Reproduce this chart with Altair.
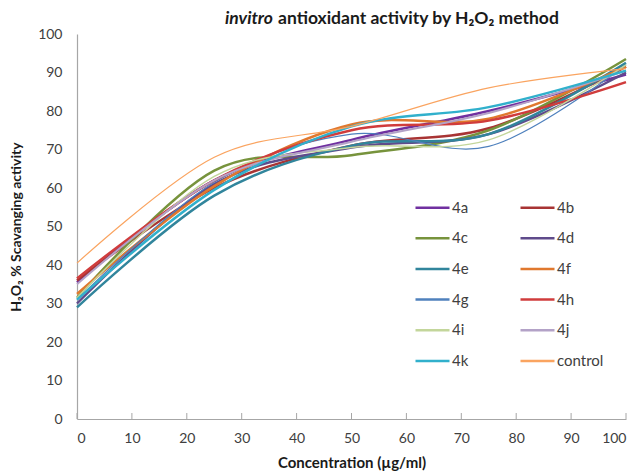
import altair as alt
import pandas as pd

# ---- data ----
concentration = [0, 25, 50, 75, 100]
series_names = ["4a", "4b", "4c", "4d", "4e", "4f", "4g", "4h", "4i", "4j", "4k", "control"]
s4a = [35.5, 62.0, 72.5, 80.0, 89.5]
s4b = [36.0, 60.0, 71.0, 75.5, 91.5]
s4c = [31.5, 64.5, 68.5, 75.0, 93.5]
s4d = [30.0, 61.0, 70.5, 74.0, 90.0]
s4e = [29.0, 58.0, 71.0, 74.0, 92.5]
s4f = [32.5, 60.5, 76.5, 78.0, 91.5]
s4g = [31.0, 61.5, 74.0, 70.8, 92.0]
s4h = [36.5, 62.0, 75.0, 77.5, 87.5]
s4i = [31.5, 63.0, 70.5, 72.5, 92.0]
s4j = [35.0, 62.0, 72.0, 79.5, 90.5]
s4k = [31.0, 59.5, 76.0, 81.0, 90.5]
control = [40.5, 68.0, 76.0, 86.0, 91.0]
all_values = [s4a, s4b, s4c, s4d, s4e, s4f, s4g, s4h, s4i, s4j, s4k, control]

x_ticks = [0, 10, 20, 30, 40, 50, 60, 70, 80, 90, 100]
y_ticks = [0, 10, 20, 30, 40, 50, 60, 70, 80, 90, 100]

# ---- styles ----
colors = ["#7030A0", "#A83434", "#77933C", "#5F4B8B", "#31859C", "#E0782E",
          "#4F81BD", "#D03C3C", "#C3D69B", "#B3A2C7", "#31B0CC", "#FAA460"]
widths = [2.5, 2.5, 2.5, 2.5, 2.5, 2.5, 1.2, 2.5, 1.5, 2.0, 2.5, 1.2]

# legend fills column by column: put the row-wise pairs in that order
legend_order = series_names[0::2] + series_names[1::2]
legend_colors = [colors[series_names.index(s)] for s in legend_order]

rows = []
for name, vals, w in zip(series_names, all_values, widths):
    for x, v in zip(concentration, vals):
        rows.append({"series": name, "conc": x, "value": v, "sw": w})
df = pd.DataFrame(rows)

FONT = "Lato"
x_scale = alt.Scale(domain=[0, 100], nice=False)
y_scale = alt.Scale(domain=[0, 100], nice=False)

lines = alt.Chart(df).mark_line(interpolate="cardinal").encode(
    x=alt.X("conc:Q", scale=x_scale,
            axis=alt.Axis(values=x_ticks, title="Concentration (µg/ml)", grid=False,
                          ticks=False, labelPadding=12, labelFontSize=14, labelFont=FONT,
                          labelColor="#404040", titleFont=FONT, titleFontSize=15,
                          titleFontWeight="bold", titleColor="#1a1a1a", titlePadding=10,
                          domainColor="#A6A6A6", domainWidth=1.2)),
    y=alt.Y("value:Q", scale=y_scale,
            axis=alt.Axis(values=y_ticks, title="H₂O₂ % Scavanging activity", grid=False,
                          ticks=False, labelPadding=15, labelFontSize=14, labelFont=FONT,
                          labelColor="#404040", titleFont=FONT, titleFontSize=14,
                          titleFontWeight="bold", titleColor="#1a1a1a", titlePadding=14,
                          domainColor="#A6A6A6", domainWidth=1.2)),
    color=alt.Color("series:N", sort=legend_order,
                    scale=alt.Scale(domain=legend_order, range=legend_colors),
                    legend=alt.Legend(title=None, orient="none", legendX=337, legendY=155,
                                      columns=2, symbolType="stroke", symbolSize=1156,
                                      symbolStrokeWidth=2.5, labelFont=FONT,
                                      labelFontSize=15, labelColor="#404040",
                                      labelOffset=1, columnPadding=46, rowPadding=3.7)),
    strokeWidth=alt.StrokeWidth("sw:Q", scale=None),
)

tick_df = pd.DataFrame({"v": x_ticks})
inner_ticks = alt.Chart(tick_df).mark_rule(color="#A6A6A6", strokeWidth=1).encode(
    x=alt.X("v:Q", scale=x_scale),
    y=alt.value(385),
    y2=alt.value(379),
)

title_a = alt.Chart(pd.DataFrame({"t": ["invitro"]})).mark_text(
    font=FONT, fontSize=17.5, fontWeight="bold", fontStyle="italic", align="right",
    baseline="middle", color="#1a1a1a"
).encode(text="t:N", x=alt.value(196), y=alt.value(-15))

title_b = alt.Chart(pd.DataFrame({"t": ["antioxidant activity by H₂O₂ method"]})).mark_text(
    font=FONT, fontSize=17.5, fontWeight="bold", align="left",
    baseline="middle", color="#1a1a1a"
).encode(text="t:N", x=alt.value(201), y=alt.value(-15))

chart = alt.layer(inner_ticks, lines, title_a, title_b).properties(
    width=549, height=385,
    autosize=alt.AutoSizeParams(type="none"),
    padding={"left": 69, "top": 26, "right": 5, "bottom": 56},
    background="white",
).configure_view(stroke=None)

chart.save("out.html", embed_options={"renderer": "svg", "actions": False})
